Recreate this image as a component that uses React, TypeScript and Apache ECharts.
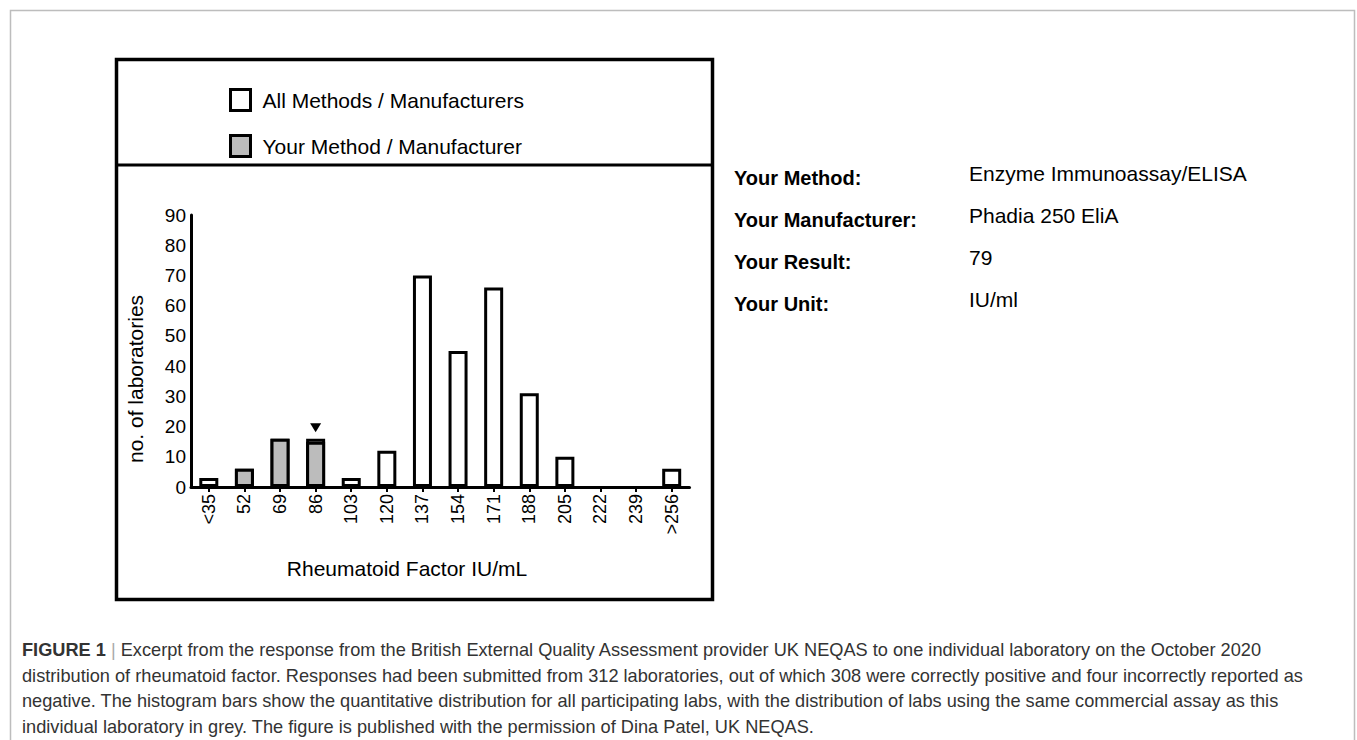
import React, { useEffect, useRef } from "react";
import * as echarts from "echarts";

const categories = ["<35", "52", "69", "86", "103", "120", "137", "154", "171", "188", "205", "222", "239", ">256"];
const allMethods = [3, 6, 16, 16, 3, 12, 70, 45, 66, 31, 10, 0, 0, 6];
const yourMethod = [null, 6, 16, 15, null, null, null, null, null, null, null, null, null, null];
const yourResultCategory = "86";

const infoLabels = ["Your Method:", "Your Manufacturer:", "Your Result:", "Your Unit:"];
const infoValues = ["Enzyme Immunoassay/ELISA", "Phadia 250 EliA", "79", "IU/ml"];

const captionLines = [
  "Excerpt from the response from the British External Quality Assessment provider UK NEQAS to one individual laboratory on the October 2020",
  "distribution of rheumatoid factor. Responses had been submitted from 312 laboratories, out of which 308 were correctly positive and four incorrectly reported as",
  "negative. The histogram bars show the quantitative distribution for all participating labs, with the distribution of labs using the same commercial assay as this",
  "individual laboratory in grey. The figure is published with the permission of Dina Patel, UK NEQAS.",
];

const FONT = "'Liberation Sans', Arial, Helvetica, sans-serif";

export default function App() {
  const ref = useRef<HTMLDivElement>(null);
  useEffect(() => {
    if (!ref.current) return;
    const chart = echarts.init(ref.current, undefined, { renderer: "svg" });
    const infoGraphics: any[] = [];
    infoLabels.forEach((t, i) => {
      infoGraphics.push({
        type: "text",
        left: 734,
        top: 168 + i * 42,
        style: { text: t, font: `bold 20px ${FONT}`, fill: "#000" },
      });
      infoGraphics.push({
        type: "text",
        left: 969,
        top: 163 + i * 42,
        style: { text: infoValues[i], font: `21px ${FONT}`, fill: "#000" },
      });
    });
    const captionGraphics: any[] = captionLines.map((t, i) => ({
      type: "text",
      left: 22,
      top: 641 + i * 25.5,
      style:
        i === 0
          ? {
              text: "{b|FIGURE 1} {s||} " + t,
              font: `18.2px ${FONT}`,
              fill: "#333",
              rich: {
                b: { font: `bold 18.2px ${FONT}`, fill: "#333" },
                s: { font: `18.2px ${FONT}`, fill: "#aaa" },
              },
            }
          : { text: t, font: `18.2px ${FONT}`, fill: "#333" },
    }));

    const allData = allMethods.map((v) =>
      v === 0 ? { value: v, itemStyle: { borderWidth: 0, color: "transparent" } } : v
    );

    chart.setOption({
      animation: false,
      backgroundColor: "#fff",
      legend: {
        orient: "vertical",
        left: 224,
        top: 83,
        icon: "rect",
        itemWidth: 20,
        itemHeight: 21,
        itemGap: 22,
        itemStyle: { borderColor: "#000", borderWidth: 3 },
        textStyle: { fontSize: 21, fontFamily: FONT, color: "#000", padding: [0, 0, 0, 7] },
        data: ["All Methods / Manufacturers", "Your Method / Manufacturer"],
        selectedMode: false,
      },
      grid: { left: 191, right: 667.5, top: 215, bottom: 253, containLabel: false },
      xAxis: {
        type: "category",
        data: categories,
        axisLine: { show: true, lineStyle: { color: "#000", width: 3 } },
        axisTick: { show: true, alignWithLabel: true, length: 5, lineStyle: { color: "#000", width: 2 } },
        axisLabel: { rotate: 90, interval: 0, fontSize: 18, fontFamily: FONT, color: "#000", margin: 7 },
        splitLine: { show: false },
      },
      yAxis: {
        type: "value",
        min: 0,
        max: 90,
        interval: 10,
        axisLine: { show: true, lineStyle: { color: "#000", width: 3 } },
        axisTick: { show: false },
        axisLabel: { fontSize: 19, fontFamily: FONT, color: "#000", margin: 5 },
        splitLine: { show: false },
      },
      series: [
        {
          name: "All Methods / Manufacturers",
          type: "bar",
          data: allData,
          barWidth: 19,
          barGap: "-100%",
          itemStyle: { color: "#fff", borderColor: "#000", borderWidth: 3 },
          markPoint: {
            symbol: "triangle",
            symbolRotate: 180,
            symbolSize: [11, 9],
            symbolOffset: [0, -11],
            label: { show: false },
            itemStyle: { color: "#000", borderWidth: 0 },
            data: [{ coord: [yourResultCategory, allMethods[categories.indexOf(yourResultCategory)]] }],
          },
        },
        {
          name: "Your Method / Manufacturer",
          type: "bar",
          data: yourMethod,
          barWidth: 19,
          barGap: "-100%",
          itemStyle: { color: "#bcbcbc", borderColor: "#000", borderWidth: 3 },
        },
      ],
      graphic: [
        {
          type: "rect",
          shape: { x: 10.5, y: 10.5, width: 1344, height: 800 },
          style: { fill: "none", stroke: "#bdbdbd", lineWidth: 1.5 },
          silent: true,
        },
        {
          type: "rect",
          shape: { x: 116.5, y: 59.5, width: 596, height: 540 },
          style: { fill: "none", stroke: "#000", lineWidth: 3.5 },
          silent: true,
        },
        {
          type: "line",
          shape: { x1: 116, y1: 165, x2: 713, y2: 165 },
          style: { stroke: "#000", lineWidth: 3 },
          silent: true,
        },
        {
          type: "text",
          x: 135,
          y: 379,
          rotation: Math.PI / 2,
          style: {
            text: "no. of laboratories",
            font: `21px ${FONT}`,
            fill: "#000",
            align: "center",
            verticalAlign: "middle",
          },
        },
        {
          type: "text",
          x: 407,
          y: 568,
          style: {
            text: "Rheumatoid Factor IU/mL",
            font: `21px ${FONT}`,
            fill: "#000",
            align: "center",
            verticalAlign: "middle",
          },
        },
        ...infoGraphics,
        ...captionGraphics,
      ],
    });
    return () => chart.dispose();
  }, []);
  return (
    <div
      ref={ref}
      style={{ position: "absolute", left: 0, top: 0, width: 1357, height: 740 }}
    />
  );
}
